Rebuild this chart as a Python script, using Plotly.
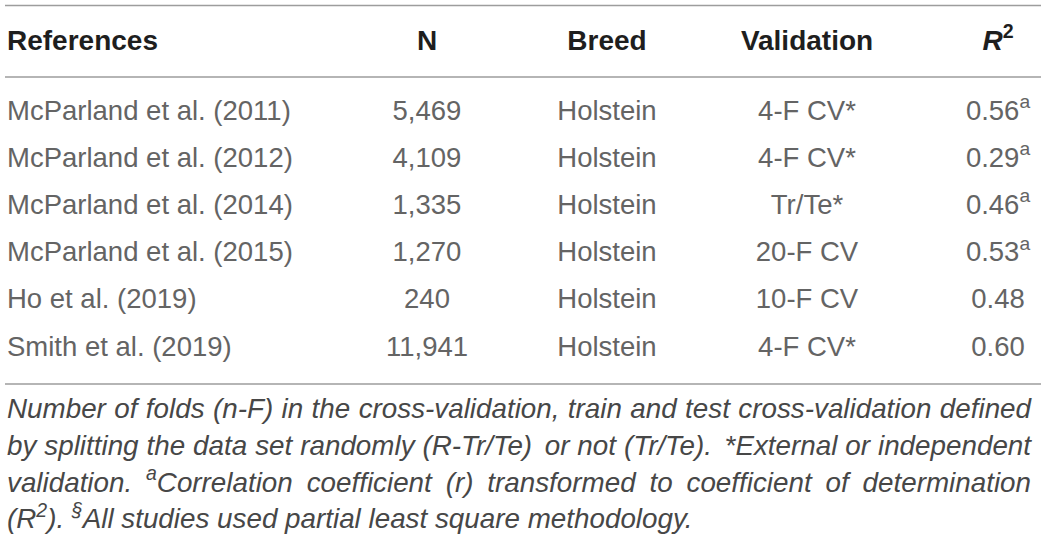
import re
import plotly.graph_objects as go

# ---------------- data ----------------
references = [
    "McParland et al. (2011)",
    "McParland et al. (2012)",
    "McParland et al. (2014)",
    "McParland et al. (2015)",
    "Ho et al. (2019)",
    "Smith et al. (2019)",
]
n_animals = [5469, 4109, 1335, 1270, 240, 11941]
breeds = ["Holstein", "Holstein", "Holstein", "Holstein", "Holstein", "Holstein"]
validations = ["4-F CV*", "4-F CV*", "Tr/Te*", "20-F CV", "10-F CV", "4-F CV*"]
r2_values = [0.56, 0.29, 0.46, 0.53, 0.48, 0.60]
r2_marks = ["a", "a", "a", "a", "", ""]
headers = ["References", "N", "Breed", "Validation", "<i>R</i><sup>2</sup>"]
footnote_lines = [
    "Number of folds (n-F) in the cross-validation, train and test cross-validation defined",
    "by splitting the data set randomly (R-Tr/Te) or not (Tr/Te). *External or independent",
    "validation. <sup>a</sup>Correlation coefficient (r) transformed to coefficient of determination",
    "(R<sup>2</sup>). <sup>§</sup>All studies used partial least square methodology.",
]
footnote_justified = [True, True, True, False]

# ---------------- layout constants ----------------
W, H = 1041, 545
FONT = "Liberation Sans, Arial, Helvetica, sans-serif"
HEAD_FS, BODY_FS, FOOT_FS = 28, 27.5, 27.8
HEAD_COLOR, BODY_COLOR, FOOT_COLOR = "#1e1e1e", "#646464", "#474747"
RULE_COLOR = "#9d9d9d"
col_x = [7, 427, 607, 807, 998]
col_pos = ["middle right", "middle center", "middle center", "middle center", "middle center"]
head_base = 53
row_base0, row_step = 122.3, 47.2
foot_base0, foot_step = 421, 36.7
foot_left, foot_right = 7, 1031
rules_y = [5.5, 77, 384]
MID = 0.35  # baseline offset of plotly "middle" text, in em

# Arial / Liberation Sans advance widths (1/1000 em)
AW = {" ": 278, "(": 333, ")": 333, "*": 389, ",": 278, "-": 333, ".": 278, "/": 278, "§": 556,
      "A": 667, "B": 667, "C": 722, "D": 722, "E": 667, "F": 611, "G": 778, "H": 722, "I": 278,
      "J": 500, "K": 667, "L": 556, "M": 833, "N": 722, "O": 778, "P": 667, "Q": 778, "R": 722,
      "S": 667, "T": 611, "U": 722, "V": 667, "W": 944, "X": 667, "Y": 667, "Z": 611,
      "a": 556, "b": 556, "c": 500, "d": 556, "e": 556, "f": 278, "g": 556, "h": 556, "i": 222,
      "j": 222, "k": 500, "l": 222, "m": 833, "n": 556, "o": 556, "p": 556, "q": 556, "r": 333,
      "s": 500, "t": 278, "u": 556, "v": 500, "w": 722, "x": 500, "y": 500, "z": 500}
for d in "0123456789":
    AW[d] = 556


def text_width(markup, fs):
    total, sup = 0.0, False
    for part in re.split(r"(<sup>|</sup>)", markup):
        if part == "<sup>":
            sup = True
        elif part == "</sup>":
            sup = False
        else:
            for ch in part:
                total += AW.get(ch, 556) * (0.7 if sup else 1.0)
    return total * fs / 1000.0


fig = go.Figure()
NOMARK = dict(size=0.001, opacity=0)

# header row
fig.add_trace(go.Scatter(
    x=col_x, y=[head_base - MID * HEAD_FS] * len(headers),
    text=[f"<b>{h}</b>" for h in headers], mode="text", marker=NOMARK,
    textposition=col_pos, cliponaxis=False,
    textfont=dict(family=FONT, size=HEAD_FS, color=HEAD_COLOR),
    hoverinfo="skip", showlegend=False))

# body rows
row_y = [row_base0 + i * row_step - MID * BODY_FS for i in range(len(references))]
columns = [
    references,
    [f"{n:,}" for n in n_animals],
    breeds,
    validations,
    [f"{v:.2f}" + (f"<sup>{m}</sup>" if m else "") for v, m in zip(r2_values, r2_marks)],
]
for cx, cp, vals in zip(col_x, col_pos, columns):
    fig.add_trace(go.Scatter(
        x=[cx] * len(vals), y=row_y, text=vals, mode="text", marker=NOMARK,
        textposition=cp, cliponaxis=False,
        textfont=dict(family=FONT, size=BODY_FS, color=BODY_COLOR),
        hoverinfo="skip", showlegend=False))

# footnote (justified lines placed word by word)
fx, fy, ft = [], [], []
for i, (line, just) in enumerate(zip(footnote_lines, footnote_justified)):
    yb = foot_base0 + i * foot_step - MID * FOOT_FS
    if just:
        words = line.split(" ")
        widths = [text_width(w, FOOT_FS) for w in words]
        gap = (foot_right - foot_left - sum(widths)) / (len(words) - 1)
        x = foot_left
        for w, ww in zip(words, widths):
            fx.append(x); fy.append(yb); ft.append(f"<i>{w}</i>")
            x += ww + gap
    else:
        fx.append(foot_left); fy.append(yb); ft.append(f"<i>{line}</i>")
fig.add_trace(go.Scatter(
    x=fx, y=fy, text=ft, mode="text", marker=NOMARK, textposition="middle right",
    cliponaxis=False,
    textfont=dict(family=FONT, size=FOOT_FS, color=FOOT_COLOR),
    hoverinfo="skip", showlegend=False))

# horizontal rules
for ry in rules_y:
    fig.add_shape(type="line", x0=5, x1=W, y0=ry, y1=ry, xref="x", yref="y",
                  line=dict(color=RULE_COLOR, width=1.6))

fig.update_layout(
    width=W, height=H, margin=dict(l=0, r=0, t=0, b=0),
    paper_bgcolor="white", plot_bgcolor="white",
    xaxis=dict(range=[0, W], visible=False, fixedrange=True),
    yaxis=dict(range=[H, 0], visible=False, fixedrange=True),
)
fig.write_html(
    "out.html",
    config={"displayModeBar": False},
    post_script="document.body.style.margin='0px';document.body.style.padding='0px';",
)
